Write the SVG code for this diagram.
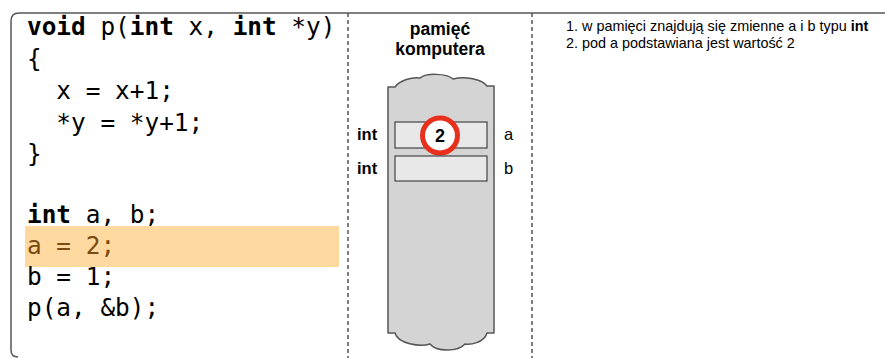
<svg xmlns="http://www.w3.org/2000/svg" width="885" height="358" viewBox="0 0 885 358">
<style>
.code{font-family:"DejaVu Sans Mono","Liberation Mono",monospace;font-size:24.4px;fill:#000}
.b{font-weight:bold}
.sans{font-family:"Liberation Sans",Arial,sans-serif;fill:#000}
.div{stroke:#555;stroke-width:1.5;stroke-dasharray:4 3;fill:none}
.cell{fill:#e8e8e8;stroke:#444;stroke-width:1.2}
</style>
<rect width="885" height="358" fill="#fff"/>
<g id="frame">
<path d="M18,357 Q11,357 11,350 V21 Q11,13 19,13 H885" fill="none" stroke="#555" stroke-width="1.5"/>
</g>
<g id="code-panel">
<rect x="25" y="226" width="314" height="41" fill="#ffd9a0"/>
<text class="code" x="27" y="35"><tspan class="b">void</tspan> p(<tspan class="b">int</tspan> x, <tspan class="b">int</tspan> *y)</text>
<text class="code" x="27" y="67">{</text>
<text class="code" x="27" y="99" xml:space="preserve">  x = x+1;</text>
<text class="code" x="27" y="131" xml:space="preserve">  *y = *y+1;</text>
<text class="code" x="27" y="162">}</text>
<text class="code" x="27" y="223"><tspan class="b">int</tspan> a, b;</text>
<text class="code" x="27" y="254" style="fill:#7a4a10">a = 2;</text>
<text class="code" x="27" y="285">b = 1;</text>
<text class="code" x="27" y="316">p(a, &amp;b);</text>
</g>
<g id="dividers">
<line class="div" x1="348" y1="13" x2="348" y2="358"/>
<line class="div" x1="532" y1="13" x2="532" y2="358"/>
</g>
<g id="memory">
<text class="sans b" x="440" y="35" font-size="17.5" text-anchor="middle">pamięć</text>
<text class="sans b" x="440" y="55" font-size="17.5" text-anchor="middle">komputera</text>
<path d="M388,87 H395 C400,80 412,77 420,78 C426,73 446,73 453,79 C465,76 482,79 487,86 H494 V333 H487 C484,343 470,345 465,344 C458,352 436,352 430,344 C420,347 398,344 395,333 H388 Z" fill="#d4d4d4" stroke="#555" stroke-width="1.5" stroke-linejoin="round"/>
</g>
<g id="var-a">
<rect class="cell" x="395" y="122" width="92" height="26"/>
<circle cx="440" cy="135.5" r="17.5" fill="#fff" stroke="#e8301c" stroke-width="5"/>
<text class="sans b" x="440" y="142" font-size="18" text-anchor="middle">2</text>
<text class="sans b" x="357" y="140" font-size="16.5">int</text>
<text class="sans" x="504" y="140" font-size="16.5">a</text>
</g>
<g id="var-b">
<rect class="cell" x="395" y="156" width="92" height="25"/>
<text class="sans b" x="357" y="174" font-size="16.5">int</text>
<text class="sans" x="504" y="174" font-size="16.5">b</text>
</g>
<g id="notes">
<text class="sans" x="566" y="31" font-size="14.4">1. w pamięci znajdują się zmienne a i b typu <tspan class="b">int</tspan></text>
<text class="sans" x="566" y="48" font-size="14.4">2. pod a podstawiana jest wartość 2</text>
</g>
</svg>
